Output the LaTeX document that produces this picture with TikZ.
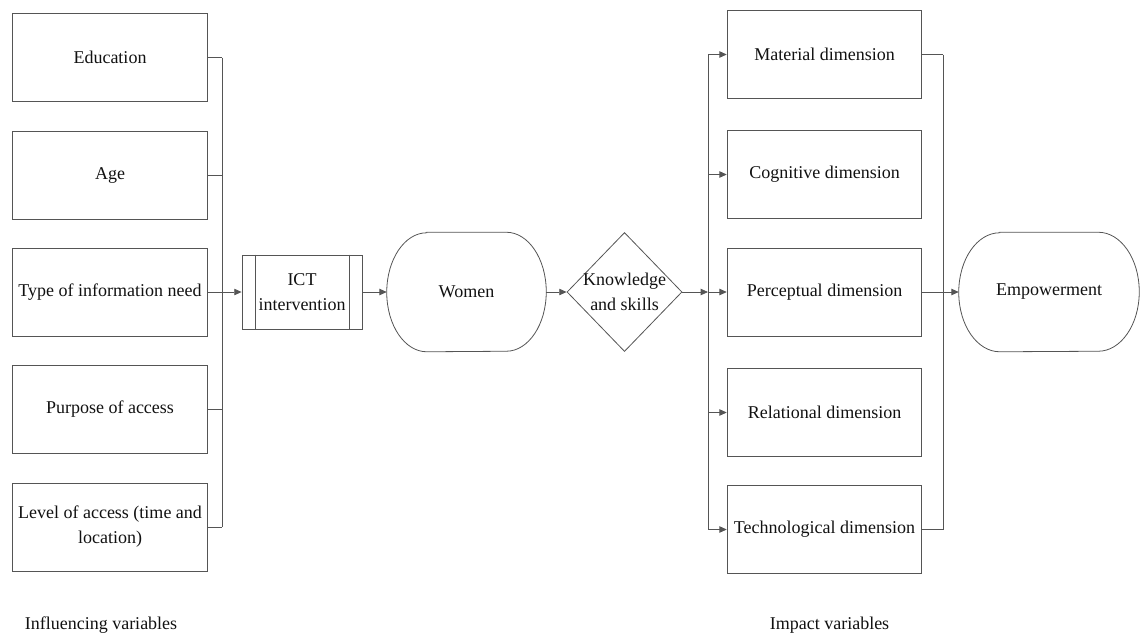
\documentclass[tikz,border=0pt]{standalone}
\usepackage{fontspec}
\setmainfont{Liberation Serif}
\newfontfamily\labelfont{Liberation Serif}
\usetikzlibrary{shapes.geometric,arrows.meta,calc}
\definecolor{linegray}{HTML}{555555}
\definecolor{ink}{HTML}{111111}
\tikzset{
  box/.style={draw=linegray, line width=0.6pt, rectangle, minimum width=146pt,
    minimum height=66pt, inner sep=0pt, align=center, text=ink},
  conn/.style={draw=linegray, line width=0.6pt},
  arr/.style={conn, -{Triangle[length=5.5pt,width=4.8pt]}},
  plain/.style={inner sep=0pt, align=center, text=ink},
}
\begin{document}
\begin{tikzpicture}[x=0.75pt, y=-0.75pt, font=\labelfont\fontsize{13.5}{18.75}\selectfont]
\useasboundingbox (0,0) rectangle (1140,637);

% influencing variables
\node[box] (edu)  at (110,57.5) {Education};
\node[box] (age)  at (110,175)  {Age};
\node[box] (info) at (110,292)  {Type of information need};
\node[box] (purp) at (110,409)  {Purpose of access};
\node[box] (lev)  at (110,527)  {Level of access (time and\\location)};
\coordinate (busL) at (222,0);

% process chain
\node[box, minimum width=90pt, minimum height=55.5pt] (ict) at (302,292) {ICT\\intervention};
\draw[conn] ([xshift=10pt]ict.north west) -- ([xshift=10pt]ict.south west);
\draw[conn] ([xshift=-10pt]ict.north east) -- ([xshift=-10pt]ict.south east);

\node[plain, minimum width=119.25pt, minimum height=89.25pt] (wom) at (466.5,292) {Women};
\draw[conn] ([xshift=30pt]wom.north west) -- ([xshift=-30pt]wom.north east)
  arc[start angle=90, end angle=-90, x radius=30pt, y radius=44.625pt]
  -- ([xshift=30pt]wom.south west)
  arc[start angle=270, end angle=90, x radius=30pt, y radius=44.625pt] -- cycle;

\node[diamond, draw=linegray, line width=0.6pt, inner sep=0pt, shape aspect=0.97,
  minimum width=86.25pt, minimum height=89.25pt] (kn) at (624.5,292) {};
\node[plain] (knt) at (kn) {Knowledge\\and skills};

% impact variables
\node[box] (mat)  at (824.5,54.5)  {Material dimension};
\node[box] (cog)  at (824.5,174.5) {Cognitive dimension};
\node[box] (perc) at (824.5,292)   {Perceptual dimension};
\node[box] (rel)  at (824.5,412.5) {Relational dimension};
\node[box] (tech) at (824.5,529.5) {Technological dimension};
\coordinate (busR) at (708,0);
\coordinate (busE) at (943,0);

\node[plain, minimum width=135pt, minimum height=89.25pt] (emp) at (1049,292) {Empowerment};
\draw[conn] ([xshift=30.75pt]emp.north west) -- ([xshift=-30.75pt]emp.north east)
  arc[start angle=90, end angle=-90, x radius=30.75pt, y radius=44.625pt]
  -- ([xshift=30.75pt]emp.south west)
  arc[start angle=270, end angle=90, x radius=30.75pt, y radius=44.625pt] -- cycle;

% captions
\node[plain] (capL) at (101,625) {Influencing variables};
\node[plain] (capR) at (829.5,625) {Impact variables};

% left collector
\foreach \n in {edu,age,purp,lev} \draw[conn] (\n.east) -- (\n.east -| busL);
\draw[conn] (edu.east -| busL) -- (lev.east -| busL);
\draw[arr] (info.east) -- (info.east -| ict.west);
\draw[arr] (ict.east) -- (ict.east -| wom.west);
\draw[arr] (wom.east) -- (wom.east -| kn.west);

% right distributor
\draw[arr] (kn.east) -- (kn.east -| busR);
\draw[conn] (mat.west -| busR) -- (tech.west -| busR);
\foreach \n in {mat,cog,perc,rel,tech} \draw[arr] (\n.west -| busR) -- (\n.west);

% collector to empowerment
\draw[conn] (mat.east) -- (mat.east -| busE);
\draw[conn] (tech.east) -- (tech.east -| busE);
\draw[conn] (mat.east -| busE) -- (tech.east -| busE);
\draw[arr] (perc.east) -- (perc.east -| emp.west);
\end{tikzpicture}
\end{document}
